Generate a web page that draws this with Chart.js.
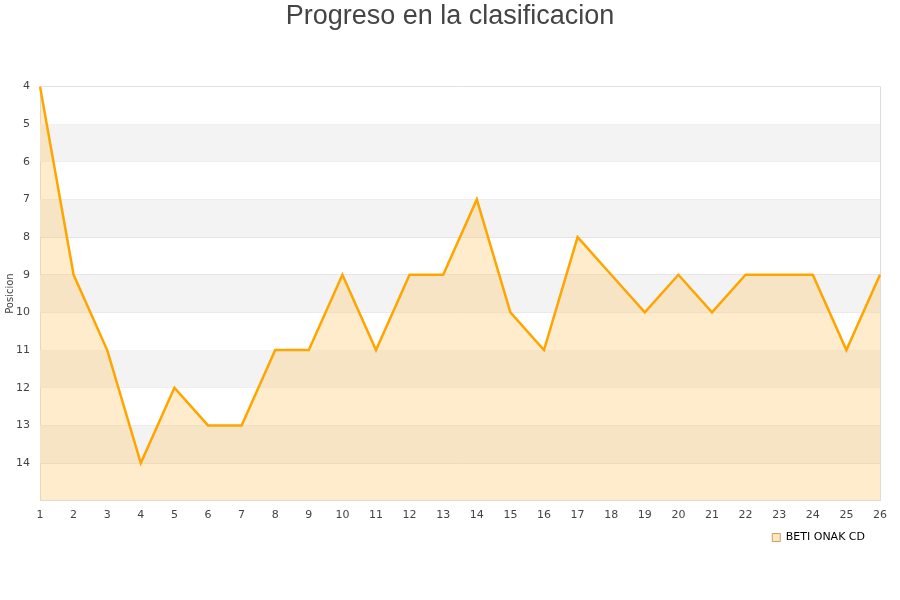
<!DOCTYPE html>
<html>
<head>
<meta charset="utf-8">
<script src="https://cdn.jsdelivr.net/npm/chart.js@4.4.0/dist/chart.umd.min.js"></script>
<style>
  body { margin: 0; background: #fff; }
  #wrap { width: 900px; height: 600px; }
</style>
</head>
<body>
<div id="wrap"><canvas id="myChart" width="900" height="600"></canvas></div>
<script>
const jornadas = ['1', '2', '3', '4', '5', '6', '7', '8', '9', '10', '11', '12', '13', '14', '15', '16', '17', '18', '19', '20', '21', '22', '23', '24', '25', '26'];
const posiciones = [4, 9, 11, 14, 12, 13, 13, 11, 11, 9, 11, 9, 9, 7, 10, 11, 8, 9, 10, 9, 10, 9, 9, 9, 11, 9];
const equipo = 'BETI ONAK CD';
const posMin = 4;
const posMax = 15;

// alternating grey bands behind the line + right border of the plot
const bandas = {
    id: 'bandas',
    beforeDatasetsDraw(chart) {
        const { ctx, chartArea, scales } = chart;
        const y = scales.y;
        ctx.save();
        ctx.fillStyle = '#f3f3f3';
        for (let v = posMin + 1; v < posMax; v += 2) {
            const a = y.getPixelForValue(v);
            const b = y.getPixelForValue(v + 1);
            ctx.fillRect(chartArea.left, a, chartArea.right - chartArea.left, b - a);
        }
        ctx.strokeStyle = '#dddddd';
        ctx.lineWidth = 1;
        ctx.beginPath();
        ctx.moveTo(chartArea.right + 0.5, chartArea.top);
        ctx.lineTo(chartArea.right + 0.5, chartArea.bottom);
        ctx.stroke();
        ctx.restore();
    },
    afterLayout(chart) {
        // pull the legend closer to the axis
        chart.legend.top -= 13;
        chart.legend.bottom -= 13;
    }
};

const viewChart = document.getElementById('myChart').getContext('2d');

const data = {
    labels: jornadas,
    datasets: [{
        label: equipo,
        data: posiciones,
        backgroundColor: 'rgba(255, 204, 122, 0.38)',
        borderColor: '#ffa500',
        borderWidth: 2.5,
        fill: { value: posMax },
        tension: 0,
        pointRadius: 0,
        pointHoverRadius: 0,
        yAxisID: 'y',
    }]
};

const config = {
    type: 'line',
    data: data,
    plugins: [bandas],
    options: {
        responsive: false,
        animation: false,
        layout: { padding: { left: 0, right: 0, top: 0, bottom: 34 } },
        scales: {
            x: {
                offset: false,
                grid: { display: false, drawTicks: false },
                border: { color: '#dddddd' },
                ticks: {
                    color: '#444',
                    padding: 8,
                    maxRotation: 0,
                    font: { family: 'DejaVu Sans', size: 11 }
                }
            },
            y: {
                reverse: true,
                min: posMin,
                max: posMax,
                afterFit: (s) => { s.width = 40; },
                grid: { color: '#e2e2e2', drawTicks: false },
                border: { color: '#dddddd' },
                ticks: {
                    stepSize: 1,
                    color: '#444',
                    padding: 10,
                    callback: (v) => v === posMax ? '' : v,
                    font: { family: 'DejaVu Sans', size: 11 }
                },
                title: {
                    display: true,
                    text: 'Posicion',
                    color: '#444',
                    padding: { top: 4, bottom: 0 },
                    font: { family: 'DejaVu Sans', size: 10 }
                }
            },
            y2: {
                position: 'right',
                display: true,
                min: posMin,
                max: posMax,
                afterFit: (s) => { s.width = 20; },
                grid: { display: false },
                border: { display: false },
                ticks: { display: false }
            }
        },
        plugins: {
            title: {
                display: true,
                text: 'Progreso en la clasificacion',
                color: '#444',
                padding: { top: 0, bottom: 54 },
                font: { family: 'Liberation Sans', size: 27, weight: 'normal' }
            },
            legend: {
                position: 'bottom',
                align: 'end',
                fullSize: false,
                labels: {
                    color: '#222',
                    boxWidth: 8,
                    boxHeight: 8,
                    padding: 15,
                    font: { family: 'DejaVu Sans', size: 11 },
                    generateLabels: (chart) => [{
                        text: equipo,
                        fillStyle: 'rgba(255, 230, 190, 1)',
                        strokeStyle: '#c8a060',
                        lineWidth: 1,
                        datasetIndex: 0
                    }]
                }
            },
            tooltip: { enabled: false }
        }
    }
};

const myChart = new Chart(viewChart, config);
</script>
</body>
</html>
